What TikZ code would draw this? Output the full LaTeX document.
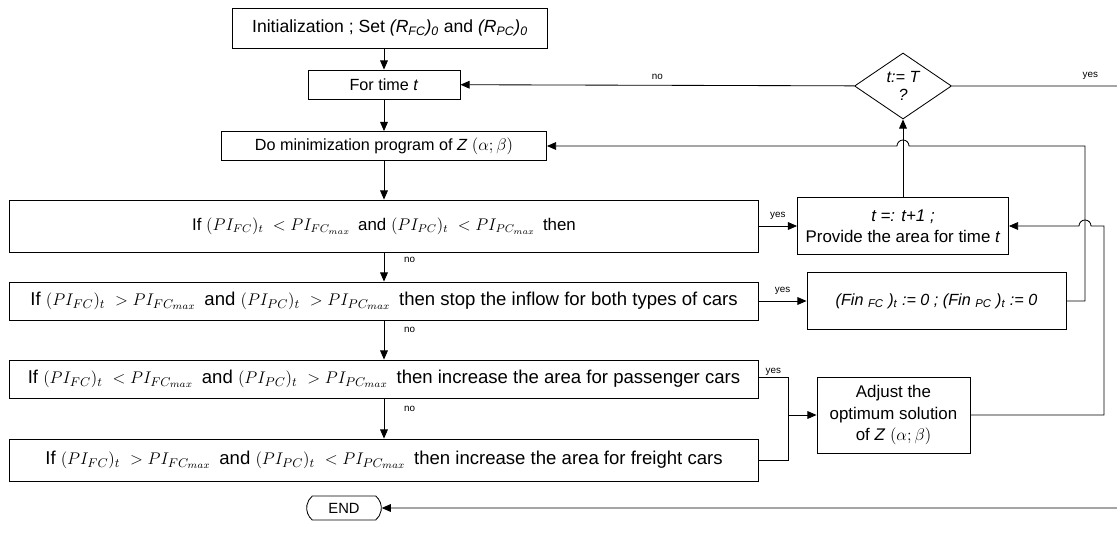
\documentclass[tikz,border=0pt]{standalone}
\usepackage{fontspec}
\setmainfont{Liberation Sans}
\usetikzlibrary{shapes.geometric,shapes.misc,arrows.meta}

\newcommand{\pimax}[1]{PI_{#1_{max}}}

\begin{document}
\begin{tikzpicture}[x=0.025cm,y=-0.025cm,
  mybox/.style={draw,line width=0.6pt,inner sep=1pt,align=center,font=\fontsize{11.5}{14}\selectfont},
  mywide/.style={mybox,minimum width=18.7cm,font=\fontsize{13.2}{15}\selectfont},
  mytest/.style={diamond,draw,line width=0.6pt,inner sep=0pt,align=center,minimum width=2.425cm,minimum height=1.65cm,font=\fontsize{11.5}{13}\selectfont\itshape},
  myend/.style={rounded rectangle,rounded rectangle arc length=100,draw,line width=0.6pt,minimum width=2.1cm,minimum height=0.6cm,font=\fontsize{10.5}{12}\selectfont},
  myline/.style={line width=0.6pt},
  myarrow/.style={myline,-{Triangle[length=6.5pt,width=5.5pt]}},
  mylabel/.style={font=\fontsize{7}{8}\selectfont,inner sep=1pt}]
\useasboundingbox (0,0) rectangle (1117,537);

\node [mybox,minimum width=7.875cm,minimum height=1cm,font=\fontsize{12.5}{14}\selectfont] (init) at (390,28)
  {Initialization ; Set \textit{(R\textsubscript{FC})\textsubscript{0}} and \textit{(R\textsubscript{PC})\textsubscript{0}}};
\node [mybox,minimum width=3.8cm,minimum height=0.725cm] (fortime) at (384,84.5) {For time \textit{t}};
\node [mybox,minimum width=8.125cm,minimum height=0.725cm] (domin) at (384,146)
  {Do minimization program of \textit{Z} $(\alpha;\beta)$};
\node [mywide,minimum height=1.3cm,font=\fontsize{12}{14}\selectfont] (ifA) at (384,226)
  {If $(PI_{FC})_t\ <\pimax{FC}$\, and $(PI_{PC})_t\ <\pimax{PC}$\, then};
\node [mywide,minimum height=0.95cm] (ifB) at (384,301)
  {If $(PI_{FC})_t\ >\pimax{FC}$\, and $(PI_{PC})_t\ >\pimax{PC}$\, then stop the inflow for both types of cars};
\node [mywide,minimum height=0.95cm] (ifC) at (384,379)
  {If $(PI_{FC})_t\ <\pimax{FC}$\, and $(PI_{PC})_t\ >\pimax{PC}$\, then increase the area for passenger cars};
\node [mywide,minimum height=1.05cm] (ifD) at (384,460)
  {If $(PI_{FC})_t\ >\pimax{FC}$\, and $(PI_{PC})_t\ <\pimax{PC}$\, then increase the area for freight cars};
\node [myend] (endnode) at (344,508) {END};

\node [mytest] (test) at (903,86) {t:= T\\?};
\node [mybox,minimum width=5.275cm,minimum height=1.425cm,font=\fontsize{12}{15}\selectfont] (tinc) at (903,226)
  {\textit{t =: t+1 ;}\\Provide the area for time \textit{t}};
\node [mybox,minimum width=6.475cm,minimum height=1.425cm] (fin) at (936.5,301)
  {\itshape (Fin \textsubscript{FC} )\textsubscript{t} := 0 ; (Fin \textsubscript{PC} )\textsubscript{t} := 0};
\node [mybox,minimum width=3.825cm,minimum height=1.9cm,font=\fontsize{12}{15}\selectfont] (adjust) at (893.5,415)
  {Adjust the\\optimum solution\\of \textit{Z} $(\alpha;\beta)$};

\coordinate (edgeT) at (1125,86);
\coordinate (edgeB) at (1125,508);
\coordinate (merge) at (788,415);

\draw[myarrow] (init.south -| fortime) -- (fortime);
\draw[myarrow] (fortime) -- (domin);
\draw[myarrow] (domin) -- (ifA);
\foreach \a/\b in {ifA/ifB,ifB/ifC,ifC/ifD}
  {\draw[myarrow] (\a) -- node[mylabel,pos=0.25,right=13pt]{no} (\b);}

\draw[myarrow] (ifA) -- node[mylabel,above=3pt]{yes} (tinc);
\draw[myarrow] (ifB) -- node[mylabel,above=3pt]{yes} (fin);
\draw[myline] (ifC.east) |- ++(0,-2) -| node[mylabel,above,pos=0.25]{yes} (merge);
\draw[myline] (ifD.east) -| (merge);
\draw[myarrow] (merge) -- (adjust);

\draw[myarrow] (test) -- node[mylabel,above=3pt]{no} (fortime);
\draw[myarrow] (test.east) -- node[mylabel,above=3pt,pos=0.8]{yes} (edgeT) -- (edgeB) -- (endnode);
\draw[myarrow] (tinc) -- (test);

\draw[myarrow] (fin.east) -| (1085,146) -- (909,146)
  arc[start angle=0,end angle=180,radius=0.15cm] -- (domin.east);
\draw[myarrow] (adjust.east) -| (1104,226) -- (1091,226)
  arc[start angle=0,end angle=180,radius=0.15cm] -- (tinc.east);
\end{tikzpicture}
\end{document}
